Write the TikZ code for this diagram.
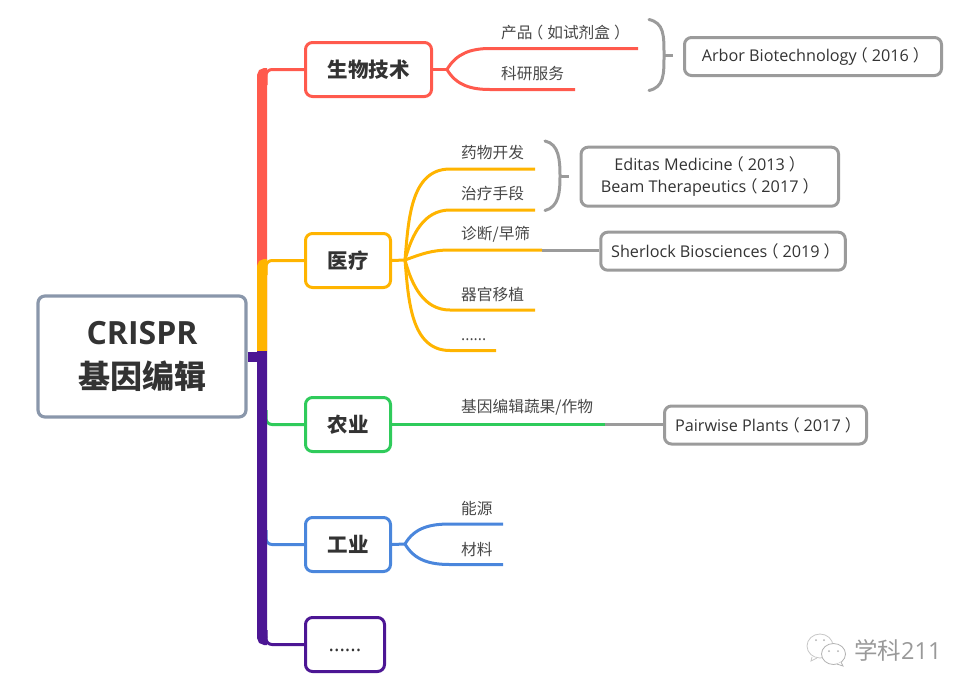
\documentclass[tikz,border=0pt]{standalone}
\usepackage{fontspec}
\setmainfont{Noto Sans CJK SC}
\newfontfamily\latn{Open Sans}
\usetikzlibrary{positioning}
\definecolor{bioc}{HTML}{FF5A4D}
\definecolor{medc}{HTML}{FFB400}
\definecolor{agrc}{HTML}{2FCB5B}
\definecolor{indc}{HTML}{4A86DC}
\definecolor{morec}{HTML}{4C1694}
\definecolor{rootc}{HTML}{8A97AB}
\definecolor{compc}{HTML}{9B9B9B}
\definecolor{txtc}{HTML}{333333}
\newcommand{\lpar}{\hspace{-5pt}（\hspace{4pt}}
\newcommand{\rpar}{\hspace{4pt}）\hspace{-5pt}}
\tikzset{
    rootbox/.style={draw=rootc, line width=3.2pt, rounded corners=7pt, minimum width=208pt, minimum height=121pt, align=center, text=txtc, font=\fontsize{32}{44}\selectfont\bfseries},
    topicbox/.style={draw=#1, line width=3pt, rounded corners=7pt, minimum height=54pt, text=txtc, font=\fontsize{20.5}{24}\selectfont\bfseries},
    compbox/.style={draw=compc, line width=3pt, rounded corners=7pt, align=center, text=txtc, font=\fontsize{16.2}{22}\selectfont},
    sublabel/.style={anchor=west, inner sep=0pt, text=txtc!90, font=\fontsize{15.7}{18}\selectfont},
    stemline/.style={line width=10pt, rounded corners=3pt},
    twig/.style={line width=3pt, rounded corners=6pt},
    fork/.style={line width=3pt}
}
\begin{document}
\begin{tikzpicture}[x=1pt,y=-1pt]
    \useasboundingbox (0,0) rectangle (971,694);
    % central topic and main topics
    \node[rootbox] (root) at (142,356.5) {\raisebox{-3pt}{\latn CRISPR}\\\raisebox{-3pt}{基因编辑}};
    \node[topicbox=bioc, minimum width=126pt] (bio) at (368.5,69.5) {生物技术};
    \node[topicbox=medc, minimum width=85pt] (med) at (348,260.5) {医疗};
    \node[topicbox=agrc, minimum width=85pt] (agr) at (348,424.5) {农业};
    \node[topicbox=indc, minimum width=85pt] (ind) at (348,544.5) {工业};
    \node[topicbox=morec, minimum width=79pt, font=\fontsize{20.5}{24}\selectfont] (more) at (345,644.5) {\smash{\raisebox{-7pt}{\latn ......}}};
    % company boxes
    \node[compbox, minimum width=257pt, minimum height=38pt] (arbor) at (813,56.5) {{\latn Arbor Biotechnology}\lpar{\latn 2016}\rpar};
    \node[compbox, minimum width=257.5pt, minimum height=59pt] (editas) at (709.8,176.7) {{\latn Editas Medicine}\lpar{\latn 2013}\rpar\\{\latn Beam Therapeutics}\lpar{\latn 2017}\rpar};
    \node[compbox, minimum width=244.5pt, minimum height=38pt] (sherlock) at (723,251.2) {{\latn Sherlock Biosciences}\lpar{\latn 2019}\rpar};
    \node[compbox, minimum width=202pt, minimum height=38pt] (pairwise) at (765.5,425) {{\latn Pairwise Plants}\lpar{\latn 2017}\rpar};
    % trunk
    \draw[bioc, stemline] (262,351) -- (262,73) -- (267,73);
    \draw[bioc, twig] (bio.west) -| (266,85);
    \draw[medc, stemline] (262,351) -- (262,264) -- (267,264);
    \draw[medc, twig] (med.west) -| (266,275);
    \draw[agrc, twig] (agr.west) -| (266,410);
    \draw[indc, twig] (ind.west) -| (266,530);
    \draw[morec, twig] (more.west) -| (266,630);
    \draw[morec, stemline] (262,351) -- (262,640) -- (267,640);
    \draw[morec, line width=10pt] (root.east) -- (262,356.5);
    % subtopics
    \coordinate (bioj) at (447,69.5);
    \coordinate (medj) at (405,260);
    \coordinate (indj) at (405,544);
    \draw[bioc, fork] (bio.east) -- (bioj);
    \draw[bioc, fork] (bioj) to[out=60,in=180] (490,48.5) -- (638,48.5);
    \draw[bioc, fork] (bioj) to[out=-60,in=180] (490,89.5) -- (575,89.5);
    \draw[medc, fork] (med.east) -- (medj);
    \foreach \y/\xend/\ang in {169/535/85,210/535/75,250/542/20,310/535/-75,350.5/496/-85}
        \draw[medc, fork] (medj) to[out=\ang,in=180] (450,\y) -- (\xend,\y);
    \draw[agrc, fork] (agr.east) -- (605,424.5);
    \draw[indc, fork] (ind.east) -- (indj);
    \draw[indc, fork] (indj) to[out=60,in=180] (450,524) -- (503,524);
    \draw[indc, fork] (indj) to[out=-60,in=180] (450,564.5) -- (503,564.5);
    % labels
    \node[sublabel] (prod) at (501,33) {产品\lpar 如试剂盒\rpar};
    \node[sublabel] (serv) at (501,73.5) {科研服务};
    \node[sublabel] (drug) at (461,153) {药物开发};
    \node[sublabel] (ther) at (461,194) {治疗手段};
    \node[sublabel] (diag) at (461,234.5) {诊断/早筛};
    \node[sublabel] (organ) at (461,294.5) {器官移植};
    \node[sublabel] (etc) at (461,340) {\latn ......};
    \node[sublabel] (veg) at (461,407.5) {基因编辑蔬果/作物};
    \node[sublabel] (ener) at (461,508.5) {能源};
    \node[sublabel] (mat) at (461,549.5) {材料};
    % links to companies
    \coordinate (diagend) at (542,250);
    \coordinate (vegend) at (605,424.5);
    \draw[compc, fork] (diagend) -- (sherlock.west |- diagend);
    \draw[compc, fork] (vegend) -- (pairwise.west |- vegend);
    \draw[compc, fork, line cap=round] (649,19.5) .. controls (664,23) and (664,35) .. (664,55) .. controls (664,75) and (664,87) .. (649,90.5);
    \draw[compc, fork] (664,55) -- (673,55);
    \draw[compc, fork, line cap=round] (545,141) .. controls (559,144) and (560,160) .. (560,176) .. controls (560,192) and (559,207) .. (545,210.5);
    \draw[compc, fork] (560,176) -- (569,176);
    % watermark
    \node[anchor=west, inner sep=0pt, text=black!40, font=\fontsize{23.5}{26}\selectfont] (mark) at (854,650) {学科{\latn 211}};
    \draw[black!22, line width=0.8pt, fill=white] (820,646) ellipse (13 and 12);
    \draw[black!22, line width=0.8pt, fill=white] (812,657) -- (811,661) -- (817,658);
    \draw[black!30, line width=0.8pt, fill=white] (833.5,654) ellipse (12 and 10.5);
    \draw[black!30, line width=0.8pt, fill=white] (841,662) -- (843,666) -- (837,664);
    \foreach \x/\y in {816/640,824/640,829/651,838/651}
        \fill[black!30] (\x,\y) circle (1);
\end{tikzpicture}
\end{document}
